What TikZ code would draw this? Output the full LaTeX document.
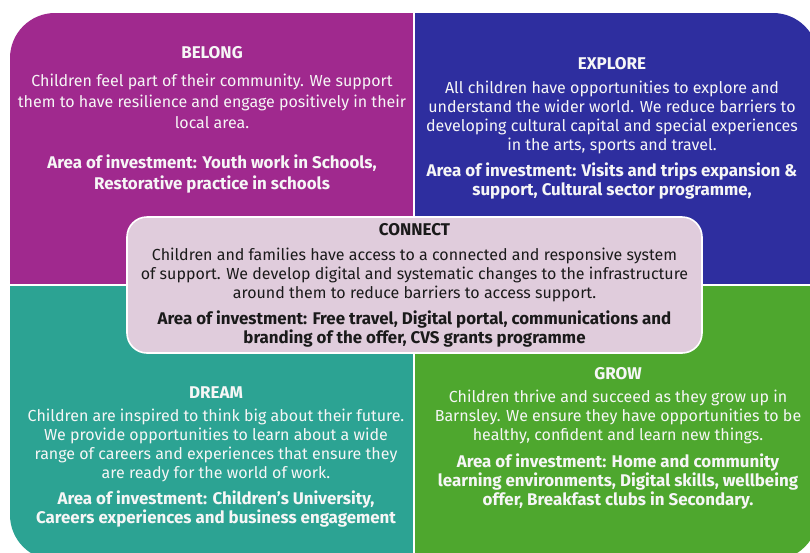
\documentclass[tikz,border=0pt]{standalone}
\usepackage{fontspec}
\setmainfont{Fira Sans}
\definecolor{belongc}{HTML}{A0298E}
\definecolor{explorec}{HTML}{2E2E9F}
\definecolor{dreamc}{HTML}{2CA393}
\definecolor{growc}{HTML}{4EA72E}
\definecolor{connectc}{HTML}{E0CCDC}
\definecolor{darktext}{HTML}{1A1A1A}
\definecolor{lighttext}{HTML}{F6F6F6}
\tikzset{
  qtitle/.style={inner sep=0pt, text=lighttext, font=\bfseries\fontsize{17}{19}\selectfont},
  qbody/.style={inner sep=0pt, align=center, text=lighttext, font=\fontsize{16}{19}\selectfont},
  qinv/.style={inner sep=0pt, align=center, text=lighttext, font=\bfseries\fontsize{16.9}{19}\selectfont},
  ctext/.style={text=darktext},
}
\begin{document}
\begin{tikzpicture}[x=1pt,y=-1pt]
\useasboundingbox (0,0) rectangle (810,552);
\fill[white] (0,0) rectangle (810,552);
\begin{scope}
  \clip[rounded corners=45pt] (10,13) rectangle (818,560);
  \fill[belongc] (10,13) rectangle (413,284);
  \fill[explorec] (415,13) rectangle (818,284);
  \fill[dreamc] (10,286) rectangle (413,560);
  \fill[growc] (415,286) rectangle (818,560);
\end{scope}
% BELONG
\node[qtitle] (belongT) at (212,53) {BELONG};
\node[qbody, font=\fontsize{16}{21}\selectfont] (belongB) at (212,101) {Children feel part of their community. We support\\them to have resilience and engage positively in their\\local area.};
\node[qinv, font=\bfseries\fontsize{16.9}{21}\selectfont] (belongI) at (212,174) {Area of investment: Youth work in Schools,\\Restorative practice in schools};
% EXPLORE
\node[qtitle] (exploreT) at (612,64) {EXPLORE};
\node[qbody] (exploreB) at (612,117.5) {All children have opportunities to explore and\\understand the wider world. We reduce barriers to\\developing cultural capital and special experiences\\in the arts, sports and travel.};
\node[qinv] (exploreI) at (612,181) {Area of investment: Visits and trips expansion \&\\support, Cultural sector programme,};
% DREAM
\node[qtitle] (dreamT) at (216,393) {DREAM};
\node[qbody] (dreamB) at (216,445) {Children are inspired to think big about their future.\\We provide opportunities to learn about a wide\\range of careers and experiences that ensure they\\are ready for the world of work.};
\node[qinv] (dreamI) at (216,509) {Area of investment: Children’s University,\\Careers experiences and business engagement};
% GROW
\node[qtitle] (growT) at (618,374) {GROW};
\node[qbody] (growB) at (618,417) {Children thrive and succeed as they grow up in\\Barnsley. We ensure they have opportunities to be\\healthy, confident and learn new things.};
\node[qinv] (growI) at (618,482) {Area of investment: Home and community\\learning environments, Digital skills, wellbeing\\offer, Breakfast clubs in Secondary.};
% CONNECT
\node[draw=white, line width=1.6pt, fill=connectc, rounded corners=20pt, minimum width=575pt, minimum height=136pt, inner sep=0pt] (connect) at (414.5,285) {};
\node[qtitle, ctext] (connectT) at (414.5,230) {CONNECT};
\node[qbody, ctext] (connectB) at (414.5,275) {Children and families have access to a connected and responsive system\\of support. We develop digital and systematic changes to the infrastructure\\around them to reduce barriers to access support.};
\node[qinv, ctext] (connectI) at (414.5,329) {Area of investment: Free travel, Digital portal, communications and\\branding of the offer, CVS grants programme};
\end{tikzpicture}
\end{document}
